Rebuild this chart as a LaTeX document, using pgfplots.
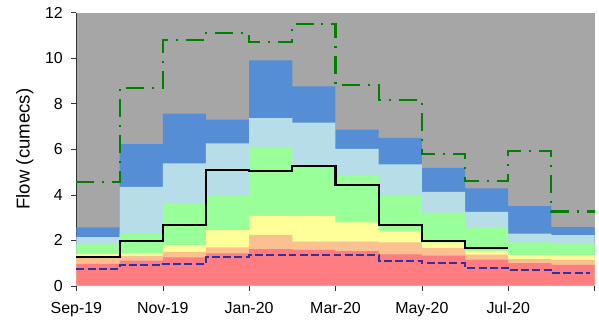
\documentclass[border=0pt]{standalone}
\usepackage{pgfplots}
\pgfplotsset{compat=1.18}
\usepackage{fontspec}
\setmainfont{Liberation Sans}
\definecolor{cgray}{RGB}{166,166,166}
\definecolor{cblue}{RGB}{85,142,213}
\definecolor{clblue}{RGB}{183,222,232}
\definecolor{cgreen}{RGB}{153,255,153}
\definecolor{cyellow}{RGB}{255,255,153}
\definecolor{csalmon}{RGB}{250,192,144}
\definecolor{cred}{RGB}{255,124,128}
\definecolor{cdash}{RGB}{46,49,160}
\definecolor{cdgreen}{RGB}{0,128,0}
\begin{document}
\begin{tikzpicture}
\begin{axis}[
  name=ax,
  scale only axis,
  width=390pt, height=205.5pt,
  xmin=0, xmax=12, ymin=0, ymax=12,
  axis lines=left,
  axis line style={-, draw=black!80},
  axis background/.style={fill=cgray},
  tick align=outside,
  major tick length=3.75pt,
  tick style={draw=black!80},
  xtick={0,2,4,6,8,10,12},
  xticklabels={Sep-19,Nov-19,Jan-20,Mar-20,May-20,Jul-20,{}},
  ytick={0,2,4,6,8,10,12},
  /pgf/number format/assume math mode=true,
  ticklabel style={font=\fontsize{12}{14}\selectfont},
  xticklabel style={yshift=-5pt},
  yticklabel style={xshift=-3pt},
  ylabel={Flow (cumecs)},
  ylabel style={font=\fontsize{14}{16}\selectfont, at={(axis description cs:-0.0995,0.5)}, anchor=center},
  clip=false,
]
% blue
\addplot[fill=cblue, draw=none, const plot] coordinates {(0,2.56) (1,6.22) (2,7.56) (3,7.30) (4,9.90) (5,8.76) (6,6.86) (7,6.50) (8,5.18) (9,4.28) (10,3.50) (11,2.57) (12,2.57)} \closedcycle;
% light blue
\addplot[fill=clblue, draw=none, const plot] coordinates {(0,2.13) (1,4.34) (2,5.37) (3,6.25) (4,7.36) (5,7.16) (6,6.01) (7,5.33) (8,4.12) (9,3.24) (10,2.29) (11,2.22) (12,2.22)} \closedcycle;
% green
\addplot[fill=cgreen, draw=none, const plot] coordinates {(0,1.81) (1,2.29) (2,3.62) (3,3.95) (4,6.10) (5,5.20) (6,4.82) (7,3.99) (8,3.21) (9,2.55) (10,1.90) (11,1.87) (12,1.87)} \closedcycle;
% yellow
\addplot[fill=cyellow, draw=none, const plot] coordinates {(0,1.40) (1,1.42) (2,1.78) (3,2.44) (4,3.07) (5,3.07) (6,2.78) (7,2.41) (8,1.90) (9,1.53) (10,1.34) (11,1.34) (12,1.34)} \closedcycle;
% salmon
\addplot[fill=csalmon, draw=none, const plot] coordinates {(0,1.30) (1,1.31) (2,1.49) (3,1.68) (4,2.23) (5,1.93) (6,1.93) (7,1.90) (8,1.65) (9,1.36) (10,1.17) (11,1.13) (12,1.13)} \closedcycle;
% red
\addplot[fill=cred, draw=none, const plot] coordinates {(0,0.96) (1,1.10) (2,1.24) (3,1.42) (4,1.61) (5,1.57) (6,1.52) (7,1.37) (8,1.32) (9,1.14) (10,0.99) (11,0.91) (12,0.91)} \closedcycle;
% blue dashed
\addplot[cdash, line width=1.6pt, dash pattern=on 6pt off 2.5pt, const plot] coordinates {(0,0.75) (1,0.92) (2,0.97) (3,1.25) (4,1.34) (5,1.36) (6,1.35) (7,1.09) (8,0.99) (9,0.79) (10,0.67) (11,0.54) (11.9,0.54)};
% black median
\addplot[black, line width=1.6pt, const plot] coordinates {(0,1.25) (1,1.98) (2,2.67) (3,5.08) (4,5.02) (5,5.27) (6,4.43) (7,2.68) (8,1.97) (9,1.64) (10,1.64)};
% green dash-dot
\addplot[cdgreen, line width=1.6pt, dash pattern=on 13.5pt off 6pt on 1.5pt off 6pt, const plot] coordinates {(0,4.57) (1,8.69) (2,10.80) (3,11.09) (4,10.70) (5,11.50) (6,8.83) (7,8.15) (8,5.80) (9,4.60) (10,5.91) (11,3.26) (12,3.26)};
\end{axis}
\path ([xshift=-57.5pt,yshift=-25pt]ax.south west) rectangle ([xshift=1.7pt,yshift=9.5pt]ax.north east);
\end{tikzpicture}
\end{document}
